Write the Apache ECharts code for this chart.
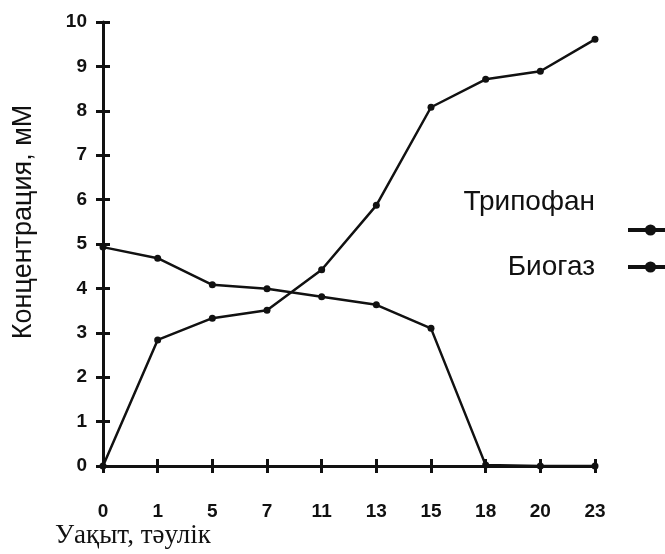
<!DOCTYPE html>
<html>
<head>
<meta charset="utf-8">
<script src="https://cdn.jsdelivr.net/npm/echarts@6/dist/echarts.min.js"></script>
<style>
    html, body { margin: 0; padding: 0; background: #fff; }
    #chart { width: 665px; height: 554px; }
</style>
</head>
<body>
<div id="chart"></div>
<script>
var days = ['0', '1', '5', '7', '11', '13', '15', '18', '20', '23'] // уақыт, тәулік
var yTicks = [0, 1, 2, 3, 4, 5, 6, 7, 8, 9, 10]
var tryptophan = [4.93, 4.68, 4.08, 3.99, 3.81, 3.63, 3.1, 0.02, 0, 0] // Трипофан
var biogas = [0, 2.84, 3.33, 3.51, 4.42, 5.87, 8.08, 8.71, 8.89, 9.61] // Биогаз

;(function () {
    var myChart = echarts.init(document.getElementById('chart'))
    var ink = '#111'
    var tickFont = { color: ink, fontFamily: 'Liberation Sans', fontWeight: 'bold', fontSize: 19 }
    var legendFont = { fontFamily: 'Liberation Sans', fontSize: 28, color: ink, lineHeight: 28 }

    function lineSeries (name, data) {
        return {
            name: name,
            type: 'line',
            data: data,
            symbol: 'circle',
            symbolSize: 7,
            showSymbol: true,
            lineStyle: { color: ink, width: 2.5 },
            itemStyle: { color: ink },
            z: 5,
        }
    }

    function legendItem (name, top, formatter) {
        return {
            data: [name],
            right: -15,
            top: top,
            align: 'right',
            itemWidth: 45,
            itemHeight: 14,
            formatter: formatter,
            lineStyle: { width: 4 },
            textStyle: Object.assign({ padding: [0, 28, 0, 0] }, legendFont),
        }
    }

    var option = {
        animation: false,
        backgroundColor: '#fff',
        grid: { left: 103, right: 70, top: 22, bottom: 88 },
        legend: [
            legendItem('Трипофан', 183, function (name) { return name + '\n\n' }), // текст выше значка
            legendItem('Биогаз', 248),
        ],
        xAxis: [
            {
                type: 'category',
                data: days,
                boundaryGap: false,
                axisLine: { lineStyle: { color: ink, width: 3 } },
                axisTick: { show: true, length: 7, lineStyle: { color: ink, width: 3 } },
                axisLabel: Object.assign({ margin: 36 }, tickFont),
                splitLine: { show: false },
            },
            {
                type: 'category',
                data: days,
                position: 'bottom',
                boundaryGap: false,
                axisLine: { show: false },
                axisTick: { show: true, inside: true, length: 7, lineStyle: { color: ink, width: 3 } },
                axisLabel: { show: false },
            },
        ],
        yAxis: [
            {
                type: 'value',
                min: yTicks[0],
                max: yTicks[yTicks.length - 1],
                interval: 1,
                name: 'Концентрация, мМ',
                nameLocation: 'middle',
                nameGap: 66,
                nameRotate: 90,
                nameTextStyle: { fontFamily: 'Liberation Sans', fontSize: 27, color: ink, padding: [0, 0, 0, 44] },
                axisLine: { show: true, lineStyle: { color: ink, width: 3 } },
                axisTick: { show: true, length: 7, lineStyle: { color: ink, width: 3 } },
                axisLabel: Object.assign({ margin: 16 }, tickFont),
                splitLine: { show: false },
            },
            {
                type: 'value',
                min: yTicks[0],
                max: yTicks[yTicks.length - 1],
                interval: 1,
                position: 'left',
                axisLine: { show: false },
                axisTick: { show: true, inside: true, length: 7, lineStyle: { color: ink, width: 3 } },
                axisLabel: { show: false },
                splitLine: { show: false },
            },
        ],
        graphic: [
            {
                type: 'text',
                left: 55,
                top: 522,
                style: { text: 'Уақыт, тәулік', fontFamily: 'Liberation Serif', fontSize: 27, fill: ink },
            },
        ],
        series: [
            lineSeries('Трипофан', tryptophan),
            lineSeries('Биогаз', biogas),
        ],
    }

    myChart.setOption(option)
}())
</script>
</body>
</html>
